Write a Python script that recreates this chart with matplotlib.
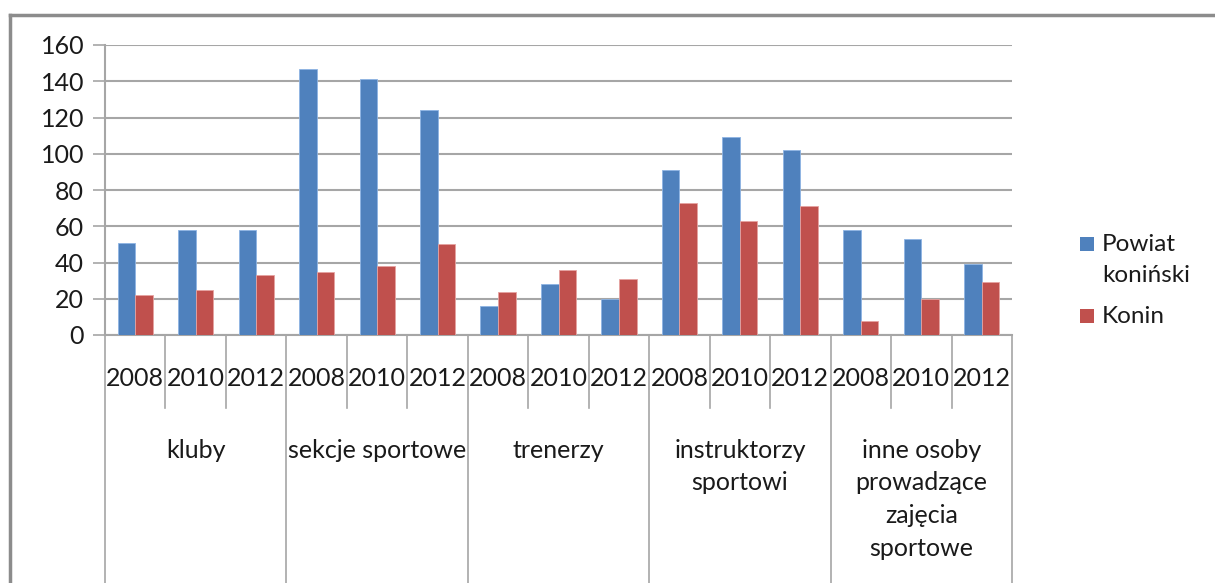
import matplotlib
matplotlib.use("Agg")
import matplotlib.pyplot as plt
from matplotlib.lines import Line2D
from matplotlib.patches import Rectangle
import numpy as np

plt.rcParams['font.family'] = ['Lato', 'DejaVu Sans']

color_blue = '#4F81BD'
color_red = '#C0504D'
grid_col = '#A6A6A6'
text_col = '#1a1a1a'

groups = ['kluby', 'sekcje sportowe', 'trenerzy', 'instruktorzy\nsportowi',
          'inne osoby\nprowadzące\nzajęcia\nsportowe']
years = ['2008', '2010', '2012']

powiat = [51, 58, 58, 147, 141, 124, 16, 28, 20, 91, 109, 102, 58, 53, 39]
konin = [22, 25, 33, 35, 38, 50, 24, 36, 31, 73, 63, 71, 8, 20, 29]

series_names = ['Powiat\nkoniński', 'Konin']

W, H = 1215, 583
fig = plt.figure(figsize=(W / 100, H / 100), dpi=100)

# axes placed by pixel positions of the plot area
left, right, top, bottom = 105, 1012, 45, 335
ax = fig.add_axes([left / W, 1 - bottom / H, (right - left) / W, (bottom - top) / H])

n = len(powiat)
x = np.arange(n)
bw = 0.29
ax.bar(x - bw / 2, powiat, width=bw, color=color_blue, edgecolor='#8EB4E3', linewidth=0.6,
       zorder=3)
ax.bar(x + bw / 2, konin, width=bw, color=color_red, edgecolor='#E6A3A1', linewidth=0.6,
       zorder=3)

ax.set_xlim(-0.5, n - 0.5)
ax.set_ylim(0, 160)
ax.set_yticks(range(0, 161, 20))
ax.yaxis.grid(True, color=grid_col, linewidth=1.5, zorder=0)
ax.tick_params(axis='y', labelsize=18, length=9, width=1.2, color=grid_col, pad=6,
               labelcolor=text_col)
ax.set_xticks([])
for s in ['top', 'right']:
    ax.spines[s].set_visible(False)
for s in ['left', 'bottom']:
    ax.spines[s].set_color(grid_col)
    ax.spines[s].set_linewidth(1.5)

# category axis drawn below the plot
trans = ax.get_xaxis_transform()
year_bottom = -(408 - bottom) / (bottom - top)
group_bottom = -(H - bottom) / (bottom - top)
for i in range(n + 1):
    xb = i - 0.5
    yb = group_bottom if i % 3 == 0 else year_bottom
    ax.add_line(Line2D([xb, xb], [0, yb], transform=trans, color=grid_col,
                       linewidth=1.2, clip_on=False))

year_y = -(379 - bottom) / (bottom - top)
for i in range(n):
    ax.text(i, year_y, years[i % 3], transform=trans, ha='center', va='center',
            fontsize=18, color=text_col, clip_on=False)

group_y = -(439 - bottom) / (bottom - top)
for g, name in enumerate(groups):
    ax.text(3 * g + 1, group_y, name, transform=trans, ha='center', va='top',
            fontsize=18, color=text_col, linespacing=1.5, clip_on=False)

# legend, drawn by hand so the swatch sits beside the first text line
leg_x = 1080
sw = 14
for name, col, yc in [(series_names[0], color_blue, 244), (series_names[1], color_red, 316)]:
    fig.add_artist(Rectangle((leg_x / W, 1 - (yc + sw / 2) / H), sw / W, sw / H,
                             transform=fig.transFigure, facecolor=col, edgecolor='none'))
    fig.text((leg_x + 22) / W, 1 - (yc - 10) / H, name, ha='left', va='top',
             fontsize=17.5, color=text_col, linespacing=1.6)

# outer chart frame
fx, fy = 10 / W, 1 - 15 / H
fig.add_artist(Line2D([fx, fx], [0, fy], transform=fig.transFigure, color='#8C8C8C', linewidth=2.5))
fig.add_artist(Line2D([fx, 1], [fy, fy], transform=fig.transFigure, color='#8C8C8C', linewidth=2.5))

fig.savefig('out.png', dpi=100)
